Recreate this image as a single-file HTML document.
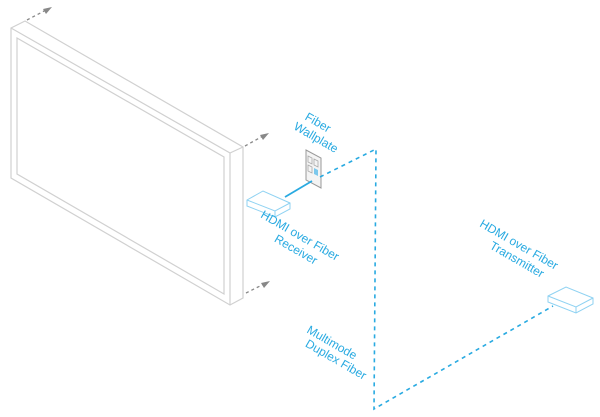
<!DOCTYPE html>
<html><head><style>html,body{margin:0;padding:0;background:#fff}svg{display:block}</style></head>
<body>
<svg width="600" height="417" viewBox="0 0 600 417" xmlns="http://www.w3.org/2000/svg" font-family="Liberation Sans, sans-serif">
<g fill="none" stroke="#d0d0d0" stroke-width="1.2">
<polygon points="11,28 25,21 243,147 243,298 230,305 11,178"/>
<polyline points="11,28 230,153 230,305"/>
<line x1="230" y1="153" x2="243" y2="147"/>
<polygon points="17,38 224,157 224,294 17,174"/>
</g>
<g stroke="#888" stroke-width="1.3" stroke-dasharray="3,3" fill="none">
<line x1="27" y1="20" x2="46" y2="10"/>
<line x1="245" y1="146" x2="263" y2="136"/>
<line x1="246" y1="293" x2="264" y2="284"/>
</g>
<g fill="#888">
<polygon points="52,7 43,9 46,14"/>
<polygon points="269,133 260,135 263,140"/>
<polygon points="270,281 261,283 264,288"/>
</g>
<polygon points="306,150 321,158 321,188 306,180" fill="#f4f4f4" stroke="#999" stroke-width="1"/>
<g fill="none" stroke="#aaa" stroke-width="0.8">
<polygon points="308,156 312,158 312,164 308,162"/><polygon points="314,159 318,161 318,167 314,165"/>
<polygon points="308,165 312,167 312,173 308,171"/>
</g>
<polygon points="314,168 318,170 318,176 314,174" fill="#7cc8ec"/>
<line x1="285" y1="197" x2="312" y2="181" stroke="#29aae1" stroke-width="1.8"/>
<g fill="none" stroke="#29aae1" stroke-width="1.6" stroke-dasharray="4,4">
<polyline points="320,177 376,149 374,409 553,306"/>
</g>
<g fill="none" stroke="#8fd2f2" stroke-width="1">
<polygon points="247,200 263,191 290,203 290,209 275,217 247,206"/>
<polyline points="247,200 275,211 290,203"/><line x1="275" y1="211" x2="275" y2="217"/>
</g>
<g fill="none" stroke="#8fd2f2" stroke-width="1">
<polygon points="548,296 566,287 593,298 593,304 576,313 548,302"/>
<polyline points="548,296 576,307 593,298"/><line x1="576" y1="307" x2="576" y2="313"/>
</g>
<g fill="#29aae1" font-size="12" text-anchor="middle">
<text transform="translate(316,126) rotate(30)">Fiber</text>
<text transform="translate(314,141) rotate(30)">Wallplate</text>
<text transform="translate(298,239) rotate(30)">HDMI over Fiber</text>
<text transform="translate(294,253) rotate(30)">Receiver</text>
<text transform="translate(517,248) rotate(30)">HDMI over Fiber</text>
<text transform="translate(515,263) rotate(30)">Transmitter</text>
<text transform="translate(330,346) rotate(30)">Multimode</text>
<text transform="translate(334,363) rotate(30)">Duplex Fiber</text>
</g>
</svg>
</body></html>
